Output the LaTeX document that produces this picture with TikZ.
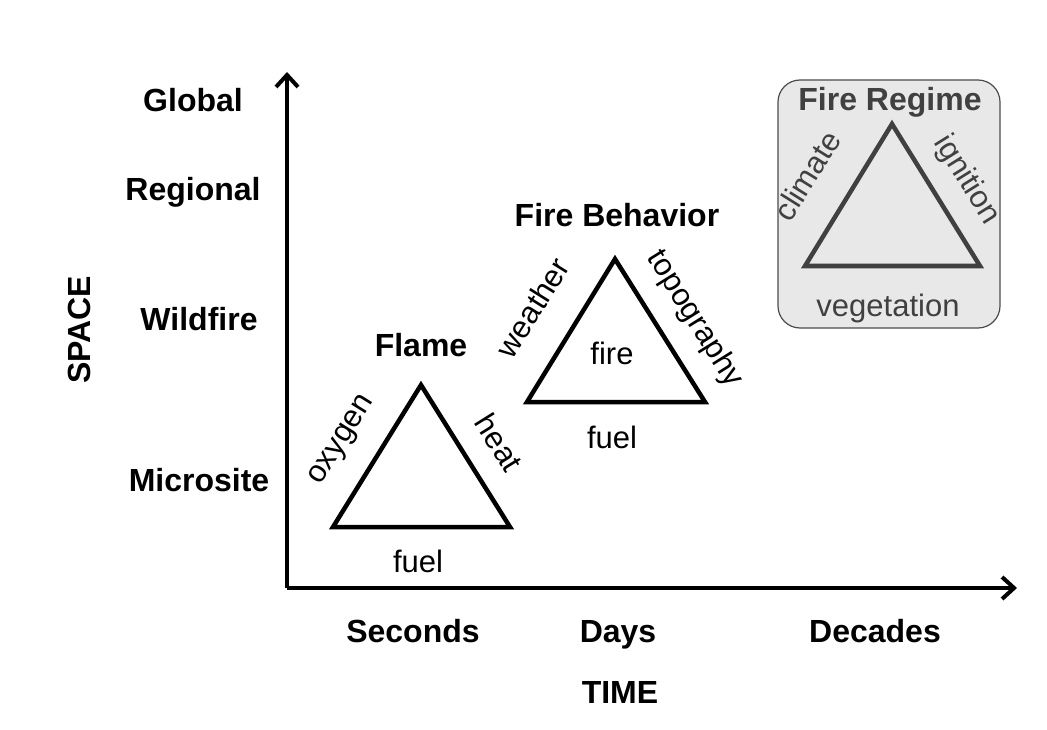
\documentclass[tikz,border=0pt]{standalone}
\usepackage{fontspec}
\setmainfont{Liberation Sans}
\usetikzlibrary{arrows.meta}
\begin{document}
\begin{tikzpicture}[x=1pt,y=-1pt,
  lab/.style={font=\fontsize{32}{34}\selectfont\bfseries,inner sep=1pt,text height=0.72em,text depth=0.2em},
  txt/.style={font=\fontsize{31}{33}\selectfont,inner sep=1pt,text height=0.72em,text depth=0.2em},
  dn/.style={yshift=-8pt},
  tri/.style={line width=4.5pt,line join=miter},
  ax/.style={line width=4.5pt,-{Straight Barb[length=12pt,width=22pt,line width=4pt]}},
  grayt/.style={text=black!75}]
\useasboundingbox (0,0) rectangle (1047,730);
% axes
\coordinate (o) at (287,588);
\coordinate (ytop) at (287,72);
\coordinate (xend) at (1017,588);
\draw[ax] (o) -- (ytop);
\draw[ax] (o) -- (xend);
\node[lab,dn] (gl) at (193,101) {Global};
\node[lab,dn] (rg) at (193,190) {Regional};
\node[lab,dn] (wf) at (199,320) {Wildfire};
\node[lab,dn] (ms) at (199,481) {Microsite};
\node[lab,rotate=90] (sp) at (88,330) {SPACE};
\node[lab,dn] (se) at (413,632) {Seconds};
\node[lab,dn] (dy) at (618,632) {Days};
\node[lab,dn] (de) at (875,632) {Decades};
\node[lab,dn] (tm) at (620,693) {TIME};
% Flame
\coordinate (f1) at (333,527); \coordinate (f2) at (421,385); \coordinate (f3) at (510,527);
\draw[tri] (f1) -- (f2) -- (f3) -- cycle;
\node[lab,dn] (fl) at (421,346) {Flame};
\node[txt,rotate=58] (ox) at (345,442) {oxygen};
\node[txt,rotate=-58] (ht) at (492,447) {heat};
\node[txt,dn] (fu1) at (418,562) {fuel};
% Fire behavior
\coordinate (b1) at (527,402); \coordinate (b2) at (615,259); \coordinate (b3) at (705,402);
\draw[tri] (b1) -- (b2) -- (b3) -- cycle;
\node[lab,dn] (fb) at (617,216) {Fire Behavior};
\node[txt,rotate=58] (we) at (540,312) {weather};
\node[txt,rotate=-58] (tp) at (690,322) {topography};
\node[txt,dn] (fi) at (612,354) {fire};
\node[txt,dn] (fu2) at (612,438) {fuel};
% Fire regime
\node[draw=black!70,line width=1.2pt,fill=black!9,rounded corners=22pt,minimum width=222pt,minimum height=248pt] (box) at (889,204) {};
\coordinate (r1) at (805,266); \coordinate (r2) at (892,124); \coordinate (r3) at (980,266);
\draw[tri,draw=black!75] (r1) -- (r2) -- (r3) -- cycle;
\node[lab,grayt,dn] (fr) at (890,100) {Fire Regime};
\node[txt,grayt,rotate=58] (cl) at (814,180) {climate};
\node[txt,grayt,rotate=-58] (ig) at (962,183) {ignition};
\node[txt,grayt,dn] (vg) at (888,306) {vegetation};
\end{tikzpicture}
\end{document}
